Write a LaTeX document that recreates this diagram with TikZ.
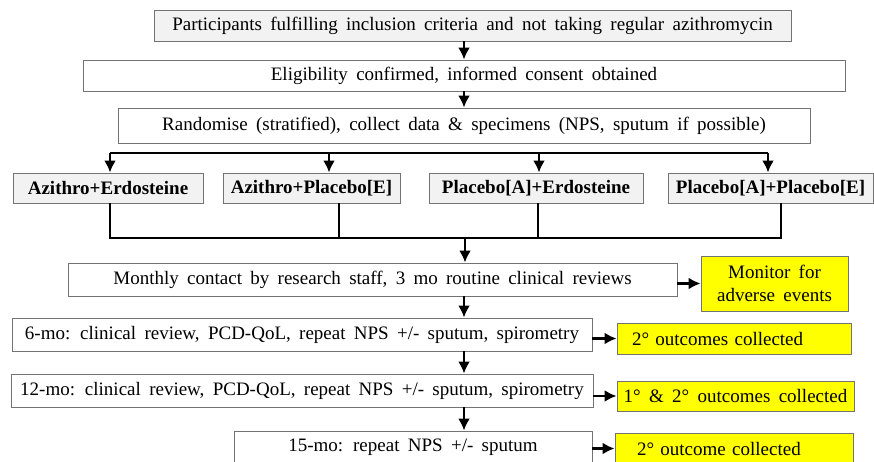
\documentclass[tikz,border=0pt]{standalone}
\usepackage{fontspec}
\setmainfont{Liberation Serif}[WordSpace=1.75]
\usetikzlibrary{arrows.meta, positioning, calc}
\definecolor{BoxGray}{RGB}{242,242,242}
\definecolor{EdgeGray}{RGB}{115,115,115}
\definecolor{NoteYellow}{RGB}{255,255,0}
\tikzset{
  >=latex,
  % caselle del diagramma
  box/.style={draw=EdgeGray, line width=0.9pt, inner sep=0pt, font=\fontsize{19}{23}\selectfont},
  box plain/.style={box, fill=white},
  box grey/.style={box, fill=BoxGray},
  box arm/.style={box grey, font=\fontsize{19}{23}\selectfont\bfseries},
  box note/.style={box, fill=NoteYellow},
  % frecce
  link/.style={line width=2.4pt},
  link arrow/.style={-{Latex[length=12pt,width=12pt]}, line width=2.4pt}
}
\begin{document}
\begin{tikzpicture}[x=1pt, y=-1pt]
  \useasboundingbox (0,0) rectangle (874,462);
  % screening e randomizzazione
  \node[box grey, minimum width=637, minimum height=31] (part) at (472.5,25.5)
    {Participants fulfilling inclusion criteria and not taking regular azithromycin};
  \node[box plain, minimum width=762, minimum height=31] (elig) at (464,75.5)
    {Eligibility confirmed, informed consent obtained};
  \node[box plain, minimum width=692, minimum height=35] (rand) at (464,125.5)
    {Randomise (stratified), collect data \& specimens (NPS, sputum if possible)};
  % i quattro bracci
  \node[box arm, minimum width=190, minimum height=30] (ae) at (108,188) {Azithro+Erdosteine};
  \node[box arm, minimum width=177, minimum height=30] (ap) at (311.5,188) {Azithro+Placebo[E]};
  \node[box arm, minimum width=214, minimum height=30] (pe) at (536,188) {Placebo[A]+Erdosteine};
  \node[box arm, minimum width=205, minimum height=30] (pp) at (770.5,188) {Placebo[A]+Placebo[E]};
  % follow-up
  \node[box plain, minimum width=609, minimum height=33] (month) at (372.5,279.5)
    {Monthly contact by research staff, 3 mo routine clinical reviews};
  \node[box note, minimum width=147, minimum height=55, align=center] (adv) at (774.5,283.5)
    {Monitor for\\adverse events};
  \node[box plain, minimum width=580, minimum height=33] (mo6) at (302,334.5)
    {6-mo: clinical review, PCD-QoL, repeat NPS +/- sputum, spirometry};
  \node[box note, inner xsep=15pt, text width=204pt, align=left, minimum height=31] (out6) at (734,338.5)
    {2° outcomes collected};
  \node[box plain, minimum width=582, minimum height=33] (mo12) at (302,390.5)
    {12-mo: clinical review, PCD-QoL, repeat NPS +/- sputum, spirometry};
  \node[box note, minimum width=237, minimum height=30] (out12) at (735.5,396)
    {1° \& 2° outcomes collected};
  \node[box plain, minimum width=358, minimum height=33] (mo15) at (413,447.5)
    {15-mo: repeat NPS +/- sputum};
  \node[box note, inner xsep=22pt, text width=194pt, align=left, minimum height=31] (out15) at (734,448.5)
    {2° outcome collected};

  \coordinate (spine) at (464,0);
  \coordinate (brL) at (110,153);
  \coordinate (brR) at (768,153);
  \coordinate (join) at (465,238);

  % frecce centrali
  \draw[link arrow] (spine |- part.south) -- (elig.north);
  \draw[link arrow] (elig.south) -- (rand.north);
  % diramazione verso i bracci
  \draw[link] (brL) -- (brR);
  \foreach \arm/\dx in {ae/2, ap/17.5, pe/3, pp/-2.5}
    \draw[link arrow] ([xshift=\dx pt]\arm.north |- brL) -- ([xshift=\dx pt]\arm.north);
  % ricongiungimento
  \draw[link] ([xshift=2pt]ae.south) |- ([xshift=10.5pt]pp.south |- join) -- ([xshift=10.5pt]pp.south);
  \foreach \arm/\dx in {ap/27.5, pe/2}
    \draw[link] ([xshift=\dx pt]\arm.south) -- ([xshift=\dx pt]\arm.south |- join);
  \draw[link arrow] (join) -- (join |- month.north);
  \draw[link arrow] (spine |- month.south) -- (spine |- mo6.north);
  \draw[link arrow] (spine |- mo6.south) -- (spine |- mo12.north);
  \draw[link arrow] (spine |- mo12.south) -- (spine |- mo15.north);
  % esiti
  \draw[link arrow] (month.east |- adv.west) -- (adv.west);
  \draw[link arrow] (mo6.east |- out6.west) -- (out6.west);
  \draw[link arrow] (mo12.east |- out12.west) -- (out12.west);
  \draw[link arrow] (mo15.east |- out15.west) -- (out15.west);
\end{tikzpicture}
\end{document}
